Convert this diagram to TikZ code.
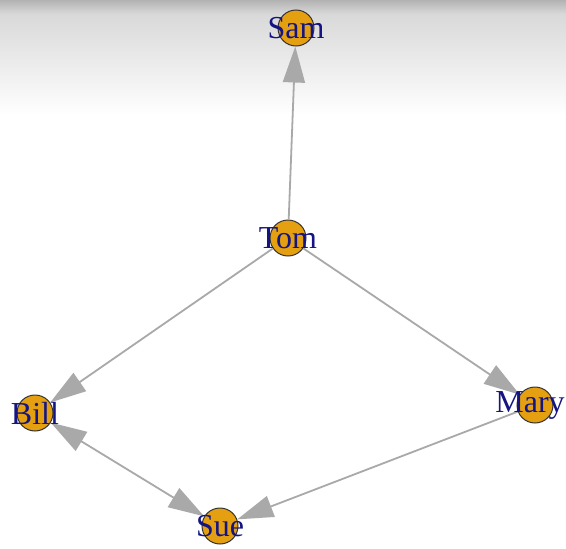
\documentclass[tikz,border=0pt]{standalone}
\usepackage{fontspec}
\setmainfont{Liberation Serif}
\usetikzlibrary{arrows.meta}
\definecolor{vertexfill}{RGB}{228,160,16}
\definecolor{edgegray}{RGB}{169,169,169}
\definecolor{labelblue}{RGB}{20,20,130}

\begin{document}
\begin{tikzpicture}[
        x=1pt, y=-1pt,
        graphtip/.tip={Triangle[length=36pt,width=22pt]},
        vertex/.style={circle, draw=black!80, fill=vertexfill, minimum size=36pt, inner sep=0pt, line width=1pt},
        vname/.style={text=labelblue, inner sep=0pt, font=\fontsize{32}{32}\selectfont},
        edge/.style={-graphtip, draw=edgegray, line width=1.8pt}
    ]

        % Background
        \useasboundingbox (0,0) rectangle (566,549);
        \fill[white] (0,0) rectangle (566,549);
        \shade[top color=black!30, bottom color=black!15] (0,0) rectangle (566,14);
        \shade[top color=black!15, bottom color=white] (0,14) rectangle (566,115);

        % Nodes
        \node[vertex] (sam) at (296,28) {};
        \node[vertex] (tom) at (288,238) {};
        \node[vertex] (bill) at (35,413) {};
        \node[vertex] (mary) at (535,405) {};
        \node[vertex] (sue) at (220,526) {};

        % Arrows
        \draw[edge] (tom) -- (sam);
        \draw[edge] (tom) -- (bill);
        \draw[edge] (tom) -- (mary);
        \draw[edge] (mary) -- (sue);
        \draw[edge, graphtip-graphtip] (bill) -- (sue);

        % Labels
        \node[vname] (samname) at (sam) {Sam};
        \node[vname] (tomname) at (tom) {Tom};
        \node[vname] (billname) at (bill) {Bill};
        \node[vname, xshift=-5pt] (maryname) at (mary) {Mary};
        \node[vname] (suename) at (sue) {Sue};

    \end{tikzpicture}
\end{document}
